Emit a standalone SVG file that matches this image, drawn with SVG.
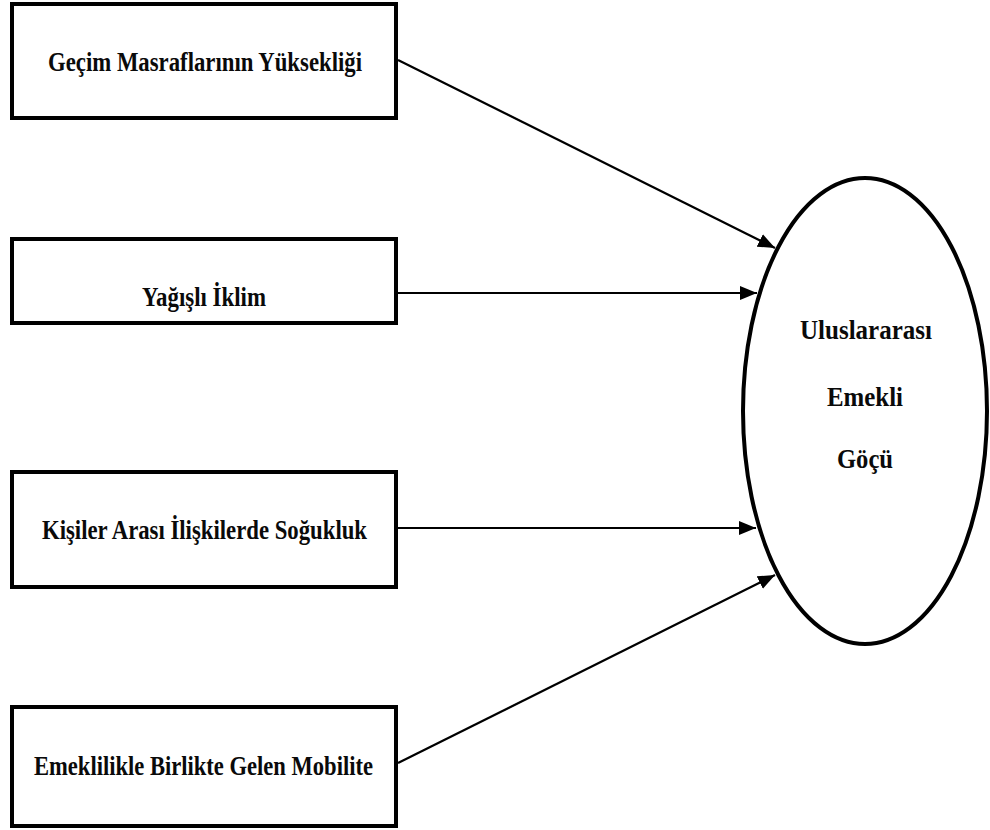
<svg xmlns="http://www.w3.org/2000/svg" width="990" height="830" viewBox="0 0 990 830">
<style>
.box{fill:#fff;stroke:#000;stroke-width:4}
.lbl{font-family:"Liberation Serif","Times New Roman",serif;font-weight:bold;font-size:26.5px;fill:#0a0a0a}
.conn{stroke:#000;stroke-width:2.2;fill:none;marker-end:url(#ah)}
</style>
<defs>
<marker id="ah" markerUnits="userSpaceOnUse" markerWidth="18" markerHeight="14" refX="17" refY="7" orient="auto">
<path d="M0,0 L17,7 L0,14 z" fill="#000"/>
</marker>
</defs>
<rect width="990" height="830" fill="#fff"/>
<g id="n1">
<rect class="box" x="12" y="4" width="384" height="114"/>
<text class="lbl" x="48" y="71" textLength="314" lengthAdjust="spacingAndGlyphs">Geçim Masraflarının Yüksekliği</text>
</g>
<g id="n2">
<rect class="box" x="12" y="239" width="384" height="84"/>
<text class="lbl" x="142" y="306" textLength="124" lengthAdjust="spacingAndGlyphs">Yağışlı İklim</text>
</g>
<g id="n3">
<rect class="box" x="12" y="472" width="384" height="115"/>
<text class="lbl" x="42" y="539" textLength="325" lengthAdjust="spacingAndGlyphs">Kişiler Arası İlişkilerde Soğukluk</text>
</g>
<g id="n4">
<rect class="box" x="12" y="707" width="384" height="119"/>
<text class="lbl" x="34" y="775" textLength="339" lengthAdjust="spacingAndGlyphs">Emeklilikle Birlikte Gelen Mobilite</text>
</g>
<g id="target">
<ellipse cx="865" cy="411" rx="122" ry="233" fill="#fff" stroke="#000" stroke-width="4"/>
<text class="lbl" x="800" y="339" textLength="132" lengthAdjust="spacingAndGlyphs">Uluslararası</text>
<text class="lbl" x="827" y="406" textLength="76" lengthAdjust="spacingAndGlyphs">Emekli</text>
<text class="lbl" x="837" y="468" textLength="56" lengthAdjust="spacingAndGlyphs">Göçü</text>
</g>
<g id="connectors">
<line class="conn" x1="398" y1="60" x2="775" y2="248"/>
<line class="conn" x1="398" y1="293" x2="757" y2="293"/>
<line class="conn" x1="398" y1="528" x2="756" y2="528"/>
<line class="conn" x1="398" y1="763" x2="775" y2="575"/>
</g>
</svg>
